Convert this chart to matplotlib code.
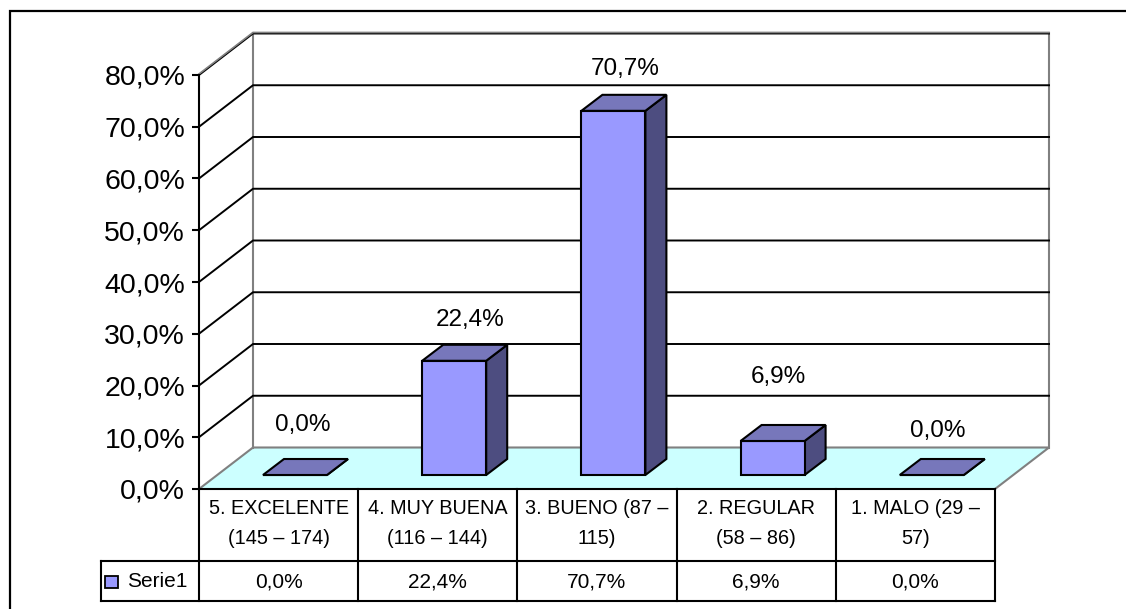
import matplotlib
matplotlib.use('Agg')
import matplotlib.pyplot as plt
from matplotlib.lines import Line2D
from matplotlib.patches import Polygon, Rectangle
from matplotlib.ticker import FuncFormatter

categories = ['5. EXCELENTE\n(145 – 174)', '4. MUY BUENA\n(116 – 144)', '3. BUENO (87 –\n115)',
              '2. REGULAR\n(58 – 86)', '1. MALO (29 –\n57)']
values = [0.0, 22.4, 70.7, 6.9, 0.0]
y_ticks = [0, 10, 20, 30, 40, 50, 60, 70, 80]
series_name = 'Serie1'

# where each value label sits (column units, value units)
label_x = [0.65, 1.70, 2.68, 3.64, 4.64]
label_y = [12.3, 32.6, 81.2, 21.6, 11.2]

W, H = 1126, 609
X0, X1 = 199, 995      # front plane of the plot, pixels
Y0, Y1 = 489, 75
PX = (X1 - X0) / 5     # pixels per column
PY = (Y0 - Y1) / 80    # pixels per percent

# depth of the fake 3d box, in data units
DX, DY = 54 / PX, 41.5 / PY
# bars sit in the middle of the floor
BAR_W = 64 / PX
BAR_OFF = 64 / PX
BAR_Z = 14 / PY
BAR_DX, BAR_DY = 21 / PX, 16 / PY
BAR_TRIM = 1.7 / PY

plt.rcParams['font.family'] = ['Liberation Sans', 'DejaVu Sans']


def pct(v):
    return ('%.1f%%' % v).replace('.', ',')


fig = plt.figure(figsize=(W / 100, H / 100), dpi=100)
fig.patch.set_facecolor('white')

# outer chart border, only top and left fall inside the picture
fig.add_artist(Line2D([9.5 / W, 9.5 / W, 1], [0, 1 - 10.5 / H, 1 - 10.5 / H], color='black', lw=1.6,
                      transform=fig.transFigure, solid_joinstyle='miter'))

ax = fig.add_axes([X0 / W, 1 - Y0 / H, (X1 - X0) / W, (Y0 - Y1) / H])
ax.set_xlim(0, 5)
ax.set_ylim(0, 80)
ax.patch.set_alpha(0)
for s in ['top', 'right', 'bottom']:
    ax.spines[s].set_visible(False)
ax.spines['left'].set_linewidth(1.5)
ax.set_xticks([])
ax.set_yticks(y_ticks)
ax.yaxis.set_major_formatter(FuncFormatter(lambda v, p: pct(v)))
ax.tick_params(axis='y', labelsize=20.5, width=1.5, length=5, pad=5, colors='black')

# floor
ax.add_patch(Polygon([(0, 0), (5, 0), (5 + DX, DY), (DX, DY)], closed=True, facecolor='#CCFFFF',
                     edgecolor='none', clip_on=False, zorder=1))
ax.plot([0, DX, 5 + DX, 5], [0, DY, DY, 0], color='#808080', lw=1.5, clip_on=False, zorder=1.5)
ax.plot([DX, DX], [DY, 80 + DY], color='#808080', lw=1.5, clip_on=False, zorder=1.5)
ax.plot([5 + DX, 5 + DX], [DY, 80 + DY], color='#808080', lw=1.5, clip_on=False, zorder=1.5)

# gridlines on back and side wall
for t in y_ticks[1:]:
    ax.plot([0, DX, 5 + DX], [t, t + DY, t + DY], color='black', lw=1.4, clip_on=False, zorder=1.6)
ax.plot([0, DX, 5 + DX], [80.2, 80.2 + DY, 80.2 + DY], color='#808080', lw=1.2, clip_on=False, zorder=1.7)

# bars
for i, v in enumerate(values):
    x = i + BAR_OFF
    x2 = x + BAR_W
    z = BAR_Z
    top = z + max(v - BAR_TRIM, 0)
    kw = dict(closed=True, edgecolor='black', lw=1.5, joinstyle='miter', clip_on=False, zorder=3)
    ax.add_patch(Polygon([(x2, z), (x2 + BAR_DX, z + BAR_DY), (x2 + BAR_DX, top + BAR_DY), (x2, top)],
                         facecolor='#4D4D80', **kw))
    ax.add_patch(Polygon([(x, z), (x2, z), (x2, top), (x, top)], facecolor='#9999FF', **kw))
    ax.add_patch(Polygon([(x, top), (x2, top), (x2 + BAR_DX, top + BAR_DY), (x + BAR_DX, top + BAR_DY)],
                         facecolor='#7777BB', **kw))
    ax.text(label_x[i], label_y[i], pct(v), fontsize=17.5, ha='center', va='center', zorder=4, clip_on=False)

# data table below the plot
row1 = -(560.7 - Y0) / PY
row2 = -(600.7 - Y0) / PY
leg_x = -(X0 - 101) / PX
line = dict(color='black', lw=1.5, clip_on=False, zorder=5, solid_capstyle='projecting')
ax.plot([0, 5], [0, 0], **line)
ax.plot([leg_x, 5], [row1, row1], **line)
ax.plot([leg_x, 5], [row2, row2], **line)
ax.plot([leg_x, leg_x], [row1, row2], **line)
for i in range(6):
    ax.plot([i, i], [0, row2], **line)
for i, c in enumerate(categories):
    ax.text(i + 0.5, row1 / 2 + 1 / PY, c, fontsize=14.3, ha='center', va='center', linespacing=1.75, clip_on=False)
    ax.text(i + 0.5, (row1 + row2) / 2 - 1 / PY, pct(values[i]), fontsize=15, ha='center', va='center', clip_on=False)
ax.add_patch(Rectangle((-(X0 - 105.5) / PX, (row1 + row2) / 2 - 7 / PY), 12.5 / PX, 12 / PY, facecolor='#9999FF',
                       edgecolor='black', lw=1.3, clip_on=False, zorder=5))
ax.text(-(X0 - 127) / PX, (row1 + row2) / 2 - 1 / PY, series_name, fontsize=15, ha='left', va='center', clip_on=False)

fig.savefig('out.png', dpi=100)
